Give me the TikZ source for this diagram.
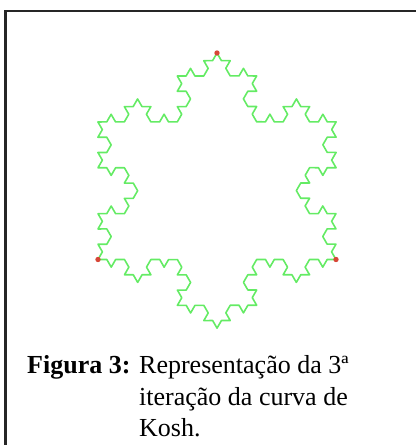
\documentclass[tikz,border=0pt]{standalone}
\usepackage{fontspec}
\setmainfont{Liberation Serif}
\usetikzlibrary{decorations.fractals}
\definecolor{kochgreen}{RGB}{100,235,100}
\definecolor{dotred}{RGB}{215,70,55}

\begin{document}
\begin{tikzpicture}[x=1pt, y=-1pt,
    kochline/.style={draw=kochgreen, line width=1.6pt, line join=round},
    vertexdot/.style={fill=dotred},
    captext/.style={anchor=base west, inner sep=0pt, font=\fontsize{26}{31}\selectfont}]
  \useasboundingbox (0,0) rectangle (416,445);
  % Draw frame (only top and left edges fall inside)
  \draw[line width=2.2pt, black!85] (5.5,445) -- (5.5,11) -- (416,11);
  % Triangle corners
  \coordinate (top) at (217,53);
  \coordinate (right) at (336,259.5);
  \coordinate (left) at (98,259.5);
  % Koch snowflake, 3 iterations
  \draw[kochline, decoration=Koch snowflake]
    decorate{decorate{decorate{(top) -- (right) -- (left) -- (top)}}};
  % Mark the corners
  \foreach \v in {top,right,left} {
    \fill[vertexdot] (\v) circle[radius=2.7pt];
  }
  % Caption
  \node[captext, font=\fontsize{26}{31}\selectfont\bfseries] (fig) at (27,373) {Figura 3:};
  \node[captext] (line1) at (139,373) {Representação da 3ª};
  \node[captext] (line2) at (139,405) {iteração da curva de};
  \node[captext] (line3) at (139,436) {Kosh.};
\end{tikzpicture}
\end{document}
